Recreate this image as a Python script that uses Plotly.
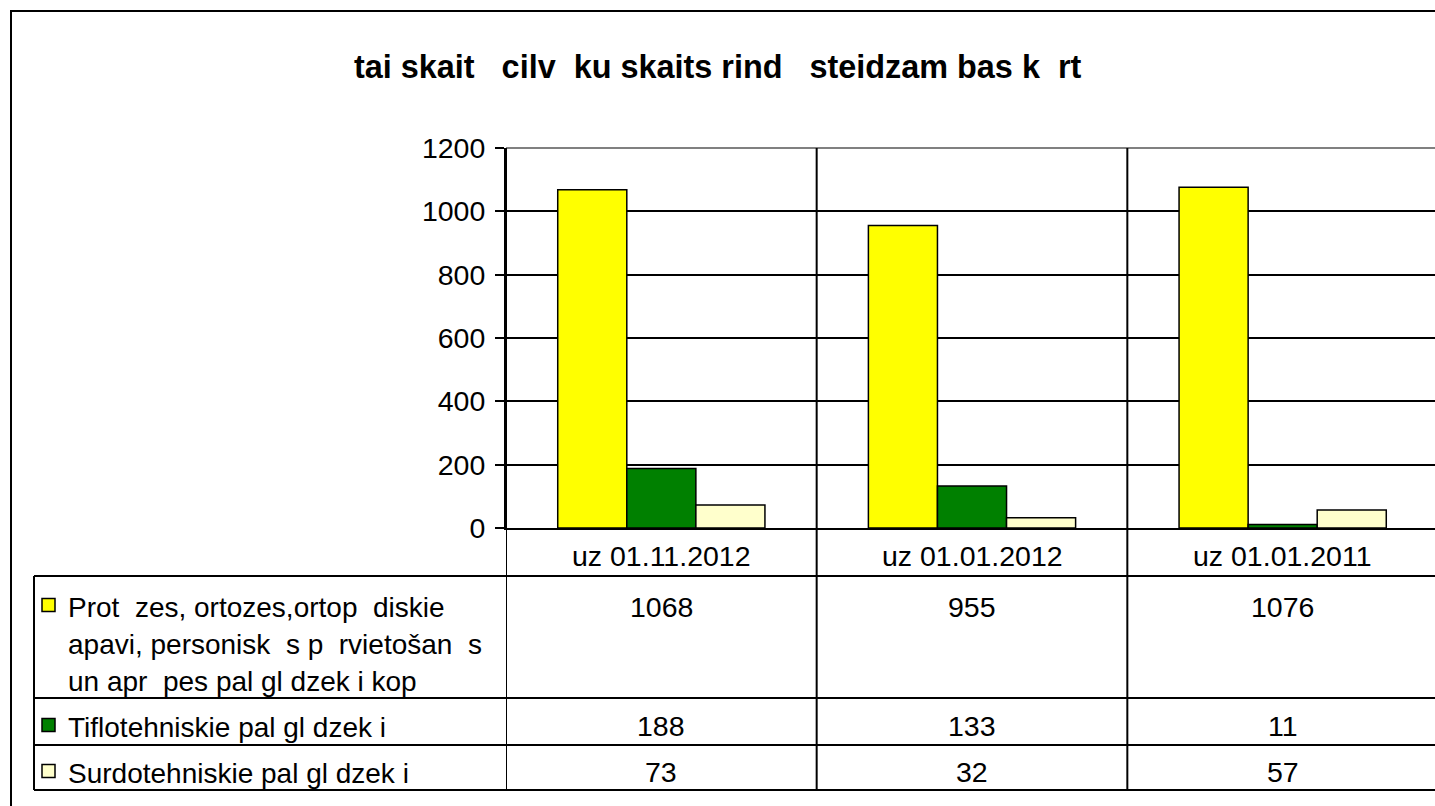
import plotly.graph_objects as go

# ---------------- data ----------------
categories = ["uz 01.11.2012", "uz 01.01.2012", "uz 01.01.2011"]
series_names = [
    "Prot  zes, ortozes,ortop  diskie\napavi, personisk  s p  rvietošan  s\nun apr  pes pal gl dzek i kop",
    "Tiflotehniskie pal gl dzek i",
    "Surdotehniskie pal gl dzek i",
]
values_prot = [1068, 955, 1076]
values_tiflo = [188, 133, 11]
values_surdo = [73, 32, 57]
series_values = [values_prot, values_tiflo, values_surdo]
series_colors = ["#FFFF00", "#008000", "#FFFFCC"]
y_ticks = [0, 200, 400, 600, 800, 1000, 1200]
title_text = "tai skait   cilv  ku skaits rind   steidzam bas k  rt"

# ---------------- geometry (pixels) ----------------
W, H = 1438, 806
X0, X1 = 506, 1438          # plot area left / right
Y1, Y0 = 148, 528           # plot area top / bottom
FONT = "Liberation Sans, Arial, sans-serif"
FS = 28.5
FS_LEG = 28


def px(x):
    return (x - X0) / (X1 - X0)


def py(y):
    return (Y0 - y) / (Y0 - Y1)


def nb(s):
    return s.replace(" ", "\u00a0")


fig = go.Figure()
for name, vals, col in zip(series_names, series_values, series_colors):
    fig.add_trace(go.Bar(
        x=categories, y=vals, name=name.replace("\n", " "),
        marker=dict(color=col, line=dict(color="black", width=1.5)),
        showlegend=False, hoverinfo="skip",
    ))

shapes = []
annotations = []
LW = 2

# outer chart border (extends past the visible window on right / bottom)
shapes.append(dict(type="rect", xref="paper", yref="paper",
                   x0=px(11), x1=px(W + 20), y0=py(11), y1=py(H + 20),
                   line=dict(color="black", width=2), fillcolor="rgba(0,0,0,0)", layer="above"))
# top border of plot area (gray)
shapes.append(dict(type="line", xref="paper", yref="paper",
                   x0=0, x1=1, y0=1, y1=1, line=dict(color="#808080", width=2), layer="above"))

# table horizontal lines
for yy in [576, 698, 745, 790]:
    shapes.append(dict(type="line", xref="paper", yref="paper",
                       x0=px(34), x1=1.02, y0=py(yy), y1=py(yy),
                       line=dict(color="black", width=LW), layer="above"))
# left table line
shapes.append(dict(type="line", xref="paper", yref="paper",
                   x0=px(34), x1=px(34), y0=py(576), y1=py(790),
                   line=dict(color="black", width=LW), layer="above"))
# category separators (data coords) and axis line extending through table
for xc in [-0.5, 0.5, 1.5]:
    shapes.append(dict(type="line", xref="x", yref="paper",
                       x0=xc, x1=xc, y0=1, y1=py(790),
                       line=dict(color="black", width=LW), layer="above"))

# category labels in the first table row
for c in categories:
    annotations.append(dict(xref="x", yref="paper", x=c, y=py(556),
                            text=nb(c), showarrow=False, xanchor="center", yanchor="middle",
                            font=dict(family=FONT, size=FS, color="black")))

# table rows: legend key + name + values
row_line_y = [[607.5, 644, 681], [727], [773]]
key_y = [605, 725, 771]
for i, (name, vals, col) in enumerate(zip(series_names, series_values, series_colors)):
    lines = name.split("\n")
    for ln, yy in zip(lines, row_line_y[i]):
        annotations.append(dict(xref="paper", yref="paper", x=px(66), y=py(yy),
                                text=nb(ln), showarrow=False, xanchor="left", yanchor="middle",
                                font=dict(family=FONT, size=FS_LEG, color="black")))
    shapes.append(dict(type="rect", xref="paper", yref="paper",
                       x0=px(42), x1=px(55), y0=py(key_y[i] - 6.5), y1=py(key_y[i] + 6.5),
                       fillcolor=col, line=dict(color="black", width=1.5), layer="above"))
    for c, v in zip(categories, vals):
        annotations.append(dict(xref="x", yref="paper", x=c, y=py(row_line_y[i][0] - 1),
                                text=str(v), showarrow=False, xanchor="center", yanchor="middle",
                                font=dict(family=FONT, size=FS, color="black")))

# title
annotations.append(dict(xref="paper", yref="paper", x=px(718), y=py(67),
                        text="<b>" + nb(title_text) + "</b>", showarrow=False,
                        xanchor="center", yanchor="middle",
                        font=dict(family=FONT, size=32.4, color="black")))

fig.update_layout(
    width=W, height=H,
    margin=dict(l=X0, r=W - X1, t=Y1, b=H - Y0, pad=0),
    paper_bgcolor="white", plot_bgcolor="white",
    barmode="group", bargap=0.333, bargroupgap=0,
    shapes=shapes, annotations=annotations,
    font=dict(family=FONT, size=FS, color="black"),
    xaxis=dict(showticklabels=False, showgrid=False, zeroline=False,
               showline=True, linecolor="black", linewidth=LW, ticks="",
               range=[-0.5, 2.5], fixedrange=True),
    yaxis=dict(range=[0, 1200], tickvals=y_ticks, ticktext=[str(t) for t in y_ticks],
               showgrid=True, gridcolor="black", gridwidth=1.5,
               zeroline=False, showline=True, linecolor="black", linewidth=LW,
               ticks="outside", ticklen=9, tickwidth=1.5, tickcolor="black",
               ticklabelstandoff=4,
               tickfont=dict(family=FONT, size=FS, color="black"), fixedrange=True),
)

fig.write_html("out.html", config={"displayModeBar": False},
               post_script="document.body.style.margin='0';document.body.style.overflow='hidden';")
